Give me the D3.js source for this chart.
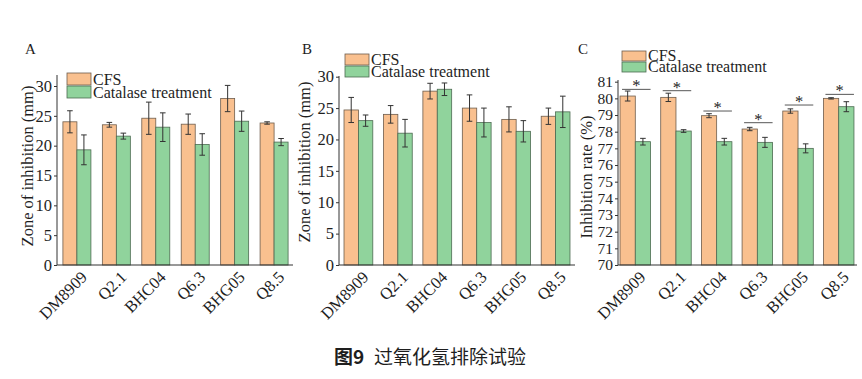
<!DOCTYPE html>
<html>
<head>
<meta charset="utf-8">
<script src="https://cdn.jsdelivr.net/npm/d3@7"></script>
<style>
  html, body { margin: 0; padding: 0; background: #fff; }
  svg text { font-family: "Liberation Serif", "Times New Roman", serif; fill: #1e1e1e; }
</style>
</head>
<body>
<svg id="chart" width="862" height="379"></svg>
<script>
// ---------- data ----------
const categories = ["DM8909", "Q2.1", "BHC04", "Q6.3", "BHG05", "Q8.5"];
const seriesNames = ["CFS", "Catalase treatment"];

// Panel A: zone of inhibition (mm)
const aCFS     = [24.0, 23.5, 24.6, 23.6, 27.9, 23.8];
const aCFSErr  = [1.85, 0.4, 2.7, 1.7, 2.2, 0.2];
const aCat     = [19.3, 21.6, 23.1, 20.2, 24.1, 20.6];
const aCatErr  = [2.5, 0.5, 2.4, 1.8, 1.7, 0.6];

// Panel B: zone of inhibition (mm)
const bCFS     = [24.7, 24.0, 27.7, 25.0, 23.2, 23.7];
const bCFSErr  = [2.0, 1.4, 1.25, 2.1, 2.0, 1.3];
const bCat     = [23.0, 21.0, 28.0, 22.7, 21.3, 24.4];
const bCatErr  = [0.9, 2.2, 1.0, 2.3, 1.7, 2.5];

// Panel C: inhibition rate (%)
const cCFS     = [80.14, 80.06, 78.96, 78.16, 79.24, 80.00];
const cCFSErr  = [0.30, 0.25, 0.12, 0.10, 0.13, 0.04];
const cCat     = [77.40, 78.04, 77.40, 77.36, 77.00, 79.50];
const cCatErr  = [0.20, 0.08, 0.20, 0.30, 0.27, 0.30];
const cSigLevel = [80.54, 80.46, 79.24, 78.54, 79.60, 80.24];
const cSigMark  = ["*", "*", "*", "*", "*", "*"];

const ticksAB = [0, 5, 10, 15, 20, 25, 30];
const ticksC  = [70, 71, 72, 73, 74, 75, 76, 77, 78, 79, 80, 81];

const caption = "过氧化氢排除试验";
const captionPrefix = "图9";

// ---------- styles ----------
const colCFS = "#f9c08f", colCat = "#90d39c";
const strokeCFS = "#6e5d4d", strokeCat = "#4d6b52";
const axisCol = "#333";
const FS = 16.5;
const LFS = 16;

const svg = d3.select("#chart");

function panel(cfg) {
  const g = svg.append("g");
  const y = d3.scaleLinear().domain(cfg.domain).range([cfg.y0, cfg.yTop]);
  const x = d3.scaleBand().domain(categories).range([cfg.x0, cfg.x1])
    .paddingInner(cfg.pi).paddingOuter(cfg.po);
  const xs = d3.scaleBand().domain(seriesNames).range([0, x.bandwidth()]);

  const series = [
    {name: seriesNames[0], vals: cfg.cfs, errs: cfg.cfsErr, fill: colCFS, stroke: strokeCFS},
    {name: seriesNames[1], vals: cfg.cat, errs: cfg.catErr, fill: colCat, stroke: strokeCat}
  ];

  series.forEach(s => {
    const gs = g.append("g");
    gs.selectAll("rect").data(categories).join("rect")
      .attr("x", c => x(c) + xs(s.name))
      .attr("width", xs.bandwidth())
      .attr("y", (c, i) => y(s.vals[i]))
      .attr("height", (c, i) => y(cfg.domain[0]) - y(s.vals[i]))
      .attr("fill", s.fill).attr("stroke", s.stroke).attr("stroke-width", 0.8);
    const ge = gs.append("g").attr("stroke", "#333").attr("stroke-width", 1);
    categories.forEach((c, i) => {
      const cx = x(c) + xs(s.name) + xs.bandwidth() / 2;
      const top = y(s.vals[i] + s.errs[i]), bot = y(s.vals[i] - s.errs[i]);
      ge.append("line").attr("x1", cx).attr("x2", cx).attr("y1", top).attr("y2", bot);
      ge.append("line").attr("x1", cx - 2.8).attr("x2", cx + 2.8).attr("y1", top).attr("y2", top);
      ge.append("line").attr("x1", cx - 2.8).attr("x2", cx + 2.8).attr("y1", bot).attr("y2", bot);
    });
  });

  // y axis
  const ya = g.append("g").attr("transform", `translate(${cfg.x0},0)`)
    .call(d3.axisLeft(y).tickValues(cfg.ticks).tickSize(3).tickSizeOuter(0).tickPadding(2));
  ya.select(".domain").remove();
  ya.selectAll(".tick line").attr("stroke", axisCol);
  ya.selectAll(".tick text").attr("font-size", cfg.tickFS).attr("font-family", "Liberation Serif").attr("fill", "#1e1e1e");
  g.append("line").attr("x1", cfg.x0).attr("x2", cfg.x0).attr("y1", cfg.y0).attr("y2", cfg.axisTop)
    .attr("stroke", axisCol);
  // x axis
  g.append("line").attr("x1", cfg.x0).attr("x2", cfg.xAxisEnd).attr("y1", cfg.y0).attr("y2", cfg.y0)
    .attr("stroke", axisCol);
  g.selectAll(".xl").data(categories).join("text").attr("class", "xl")
    .attr("transform", c => `translate(${x(c) + x.bandwidth() / 2 + 3},${cfg.y0 + 5}) rotate(-45)`)
    .attr("text-anchor", "end").attr("dy", "0.7em").attr("font-size", FS).text(c => c);

  // y title
  g.append("text")
    .attr("transform", `translate(${cfg.titleX},${cfg.titleY}) rotate(-90)`)
    .attr("text-anchor", "middle").attr("font-size", FS).text(cfg.yTitle);

  // panel letter
  g.append("text").attr("x", cfg.labelX).attr("y", cfg.labelY).attr("font-size", 15).text(cfg.label);

  // legend
  series.forEach((s, i) => {
    const ly = cfg.legY + i * cfg.legStep;
    g.append("rect").attr("x", cfg.legX).attr("y", ly).attr("width", 24).attr("height", cfg.legStep - 1)
      .attr("fill", s.fill).attr("stroke", s.stroke).attr("stroke-width", 0.8);
    g.append("text").attr("x", cfg.legX + 26).attr("y", ly + cfg.legStep - 1.5)
      .attr("font-size", LFS).text(s.name);
  });

  // significance marks
  if (cfg.sig) {
    categories.forEach((c, i) => {
      const ly = y(cfg.sig[i]);
      g.append("line").attr("x1", x(c) + 2).attr("x2", x(c) + x.bandwidth())
        .attr("y1", ly).attr("y2", ly).attr("stroke", "#444").attr("stroke-width", 0.9);
      g.append("text").attr("x", x(c) + x.bandwidth() / 2 + 1).attr("y", ly + 2)
        .attr("text-anchor", "middle").attr("font-size", FS).text(cfg.sigMark[i]);
    });
  }
}

panel({
  label: "A", labelX: 25, labelY: 54,
  cfs: aCFS, cfsErr: aCFSErr, cat: aCat, catErr: aCatErr,
  domain: [0, 30], ticks: ticksAB, tickFS: FS, y0: 265, yTop: 86, axisTop: 75,
  x0: 57, x1: 294, xAxisEnd: 293, pi: 0.29, po: 0.15,
  yTitle: "Zone of inhibition (mm)", titleX: 33, titleY: 166,
  legX: 67, legY: 73, legStep: 13
});

panel({
  label: "B", labelX: 302, labelY: 54,
  cfs: bCFS, cfsErr: bCFSErr, cat: bCat, catErr: bCatErr,
  domain: [0, 30], ticks: ticksAB, tickFS: FS, y0: 265, yTop: 76.7, axisTop: 76,
  x0: 339, x1: 575, xAxisEnd: 575, pi: 0.27, po: 0.127,
  yTitle: "Zone of inhibition (mm)", titleX: 310, titleY: 162,
  legX: 345, legY: 54, legStep: 12
});

panel({
  label: "C", labelX: 578, labelY: 54,
  cfs: cCFS, cfsErr: cCFSErr, cat: cCat, catErr: cCatErr,
  domain: [70, 81], ticks: ticksC, tickFS: 15.5, y0: 265, yTop: 81.7, axisTop: 80,
  x0: 618, x1: 856, xAxisEnd: 857, pi: 0.25, po: 0.05,
  yTitle: "Inhibition rate (%)", titleX: 592, titleY: 177,
  legX: 622, legY: 51, legStep: 11,
  sig: cSigLevel, sigMark: cSigMark
});

// caption
const cap = svg.append("text").attr("x", 430).attr("y", 364).attr("text-anchor", "middle")
  .style("font-family", '"Noto Sans CJK SC", sans-serif').attr("font-size", 19).attr("fill", "#333");
cap.append("tspan").attr("font-weight", "bold").style("font-family", '"Noto Sans CJK SC", sans-serif').text(captionPrefix);
cap.append("tspan").attr("dx", 10).style("font-family", '"Noto Sans CJK SC", sans-serif').text(caption);
</script>
</body>
</html>
